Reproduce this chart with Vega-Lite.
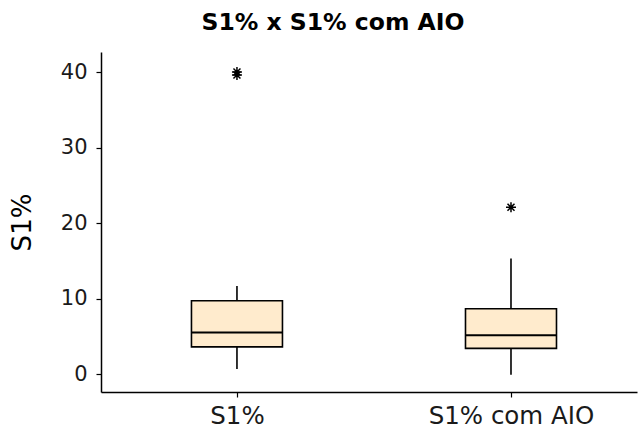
{
  "$schema": "https://vega.github.io/schema/vega-lite/v6.json",
  "autosize": "none",
  "padding": {"left": 101, "top": 52, "right": 5, "bottom": 41},
  "width": 536,
  "height": 340,
  "background": "white",
  "title": {"text": "S1% x S1% com AIO", "font": "DejaVu Sans", "fontSize": 23.5, "fontWeight": "bold", "color": "#000000", "anchor": "middle", "dx": -36, "offset": 18},
  "config": {
    "view": {"stroke": null},
    "axis": {"grid": false, "domainColor": "#000000", "domainWidth": 1.5, "tickColor": "#000000", "tickWidth": 1.2, "tickSize": 5, "labelFont": "DejaVu Sans", "labelFontSize": 21, "labelColor": "#1a1a1a", "titleFont": "DejaVu Sans", "titleFontSize": 26, "titleFontWeight": "normal", "titleColor": "#000000"}
  },
  "datasets": {
    "resumo": [
      {"grupo": "S1%", "lower": 0.65, "q1": 3.6, "median": 5.5, "q3": 9.7, "upper": 11.65},
      {"grupo": "S1% com AIO", "lower": -0.1, "q1": 3.4, "median": 5.15, "q3": 8.65, "upper": 15.3}
    ],
    "outliers": [
      {"grupo": "S1%", "valor": 40.0},
      {"grupo": "S1%", "valor": 39.6},
      {"grupo": "S1% com AIO", "valor": 22.1}
    ]
  },
  "encoding": {
    "x": {"field": "grupo", "type": "nominal", "scale": {"type": "point", "padding": 0.478, "align": 0.519, "domain": ["S1%", "S1% com AIO"]}, "axis": {"title": null, "labelAngle": 0, "labelPadding": 7, "labelFontSize": 24.5}}
  },
  "layer": [
    {
      "data": {"name": "resumo"},
      "mark": {"type": "rule", "color": "#000000", "strokeWidth": 1.6},
      "encoding": {
        "y": {"field": "upper", "type": "quantitative", "scale": {"domain": [-2.38, 42.65], "nice": false, "zero": false}, "axis": {"title": "S1%", "values": [0, 10, 20, 30, 40], "titlePadding": 25, "labelPadding": 9}},
        "y2": {"field": "q3"}
      }
    },
    {
      "data": {"name": "resumo"},
      "mark": {"type": "rule", "color": "#000000", "strokeWidth": 1.6},
      "encoding": {
        "y": {"field": "q1", "type": "quantitative"},
        "y2": {"field": "lower"}
      }
    },
    {
      "data": {"name": "resumo"},
      "mark": {"type": "bar", "width": 91, "fill": "#FFEBCD", "stroke": "#000000", "strokeWidth": 1.6, "opacity": 1},
      "encoding": {
        "y": {"field": "q1", "type": "quantitative"},
        "y2": {"field": "q3"}
      }
    },
    {
      "data": {"name": "resumo"},
      "mark": {"type": "tick", "size": 91, "thickness": 2, "color": "#000000", "opacity": 1},
      "encoding": {
        "y": {"field": "median", "type": "quantitative"}
      }
    },
    {
      "data": {"name": "outliers"},
      "mark": {"type": "point", "shape": "M-1,0L1,0M0,-1L0,1M-0.7,-0.7L0.7,0.7M-0.7,0.7L0.7,-0.7", "size": 100, "filled": false, "stroke": "#000000", "strokeWidth": 1.5, "opacity": 1},
      "encoding": {
        "y": {"field": "valor", "type": "quantitative"}
      }
    }
  ]
}
